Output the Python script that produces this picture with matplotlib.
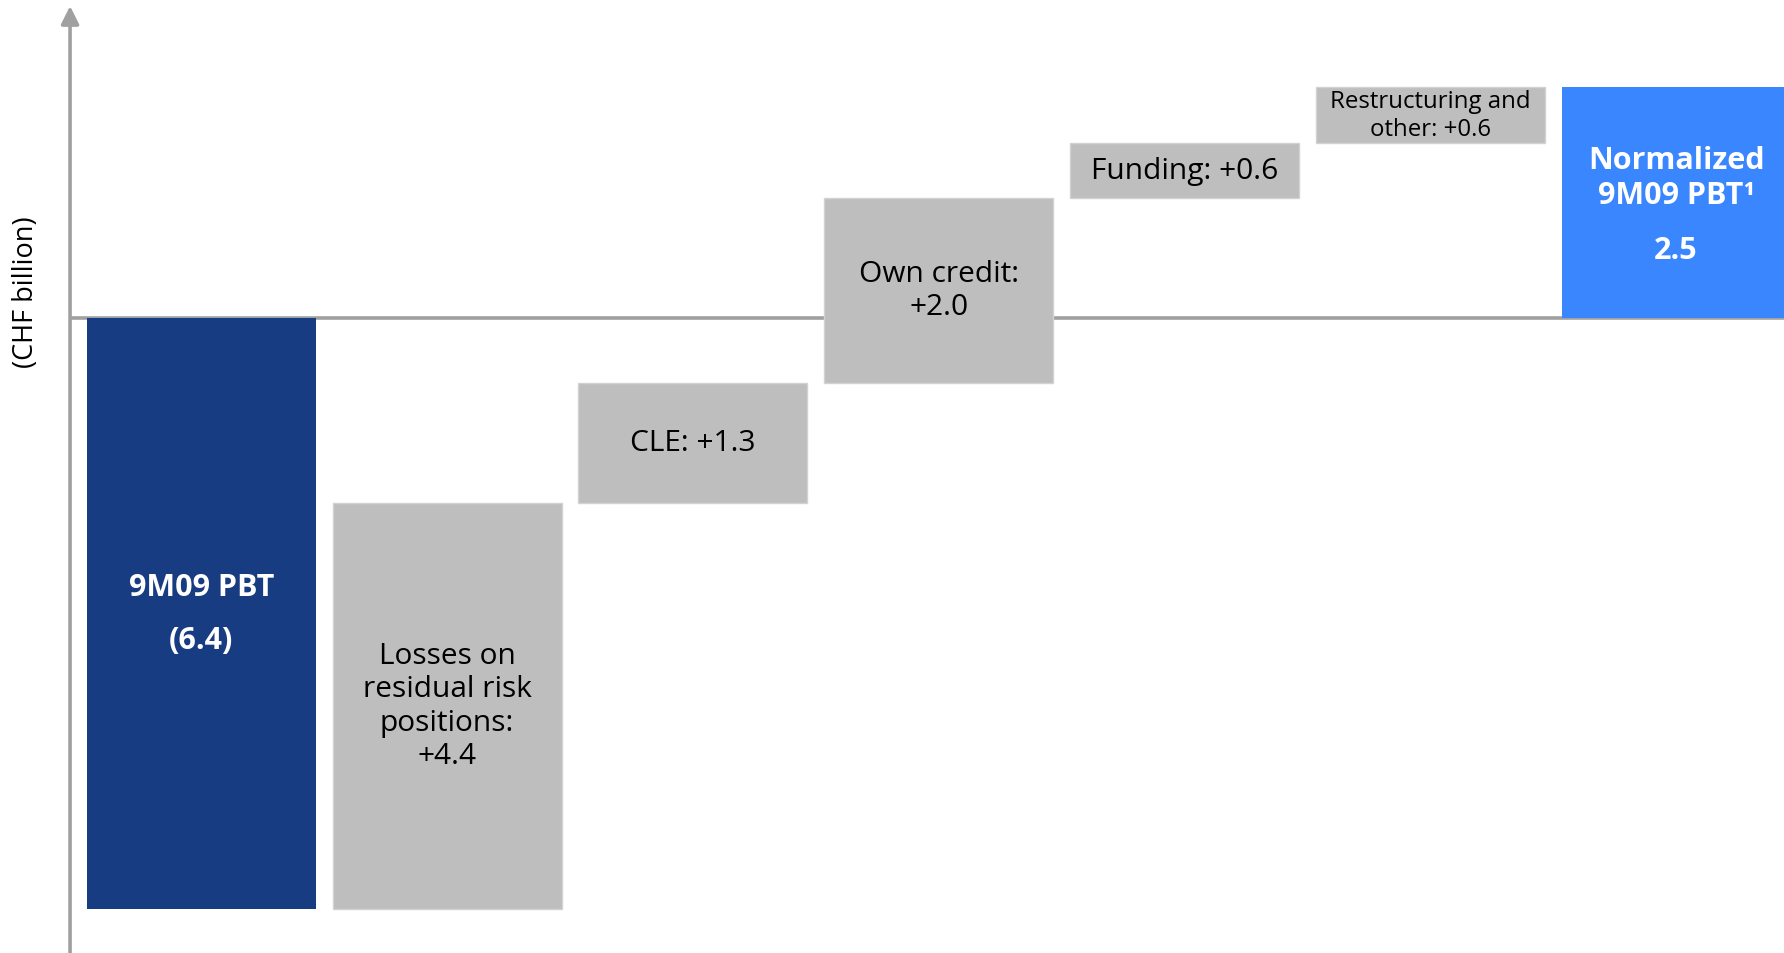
import matplotlib
matplotlib.use('Agg')
import matplotlib.pyplot as plt

plt.rcParams['font.family'] = ['Open Sans', 'DejaVu Sans']

# PBT bridge, CHF billion
start_label = '9M09 PBT'
start_value = -6.4
step_names = ['Losses on\nresidual risk\npositions:', 'CLE:', 'Own credit:',
              'Funding:', 'Restructuring and\nother:']
step_seps = ['\n', ' ', '\n', ' ', ' ']
step_values = [4.4, 1.3, 2.0, 0.6, 0.6]
end_label = 'Normalized\n9M09 PBT\u00b9'
end_value = 2.5

DARK = '#183c82'
BRIGHT = '#3a86ff'
GREY = '#bebebe'
AXIS = '#a0a0a0'

fig = plt.figure(figsize=(17.84, 9.54), dpi=100)
ax = fig.add_axes([0, 0, 1, 1])
ax.set_xlim(-0.819, 6.439)
ax.set_ylim(-6.880, 3.456)
ax.axis('off')

w = 0.932

# start bar
ax.bar(0, start_value, width=w, color=DARK, zorder=2)
ax.annotate(start_label, xy=(0, start_value / 2), xytext=(0, 19), textcoords='offset points',
            ha='center', va='center', color='white', fontsize=22, fontweight='bold', zorder=4)
ax.annotate('(%.1f)' % abs(start_value), xy=(0, start_value / 2), xytext=(0, -19),
            textcoords='offset points', ha='center', va='center', color='white',
            fontsize=22, fontweight='bold', zorder=4)

# floating steps
level = start_value
for i, (name, sep, v) in enumerate(zip(step_names, step_seps, step_values), start=1):
    ax.bar(i, v, bottom=level, width=w, color=GREY, edgecolor='#d2d2d2', linewidth=1, zorder=2)
    fs = 17.3 if i == 5 else 21.5
    ax.text(i, level + v / 2, f'{name}{sep}{v:+.1f}', ha='center', va='center',
            fontsize=fs, color='black', linespacing=1.2, zorder=4)
    level += v

# end bar
xe = len(step_values) + 1
ax.bar(xe, end_value, width=w, color=BRIGHT, zorder=2)
ax.annotate(end_label, xy=(xe, end_value / 2), xytext=(0, 18), textcoords='offset points',
            ha='center', va='center', color='white', fontsize=22, fontweight='bold',
            linespacing=1.25, zorder=4)
ax.annotate('%.1f' % end_value, xy=(xe, end_value / 2), xytext=(0, -34), textcoords='offset points',
            ha='center', va='center', color='white', fontsize=22, fontweight='bold', zorder=4)

# axes
x_axis = -0.534
ax.plot([x_axis, 6.439], [0, 0], color=AXIS, lw=2.6, zorder=1, solid_capstyle='butt')
ax.annotate('', xy=(x_axis, 3.38), xytext=(x_axis, -6.880),
            arrowprops=dict(arrowstyle='-|>,head_length=0.6,head_width=0.3', mutation_scale=18,
                            color=AXIS, lw=2.6, shrinkA=0, shrinkB=0), zorder=3)
fig.text(26 / 1784, 1 - 292 / 954, '(CHF billion)', rotation=90, ha='center', va='center',
         fontsize=19.5, color='black')

fig.savefig('out.png', dpi=100)
